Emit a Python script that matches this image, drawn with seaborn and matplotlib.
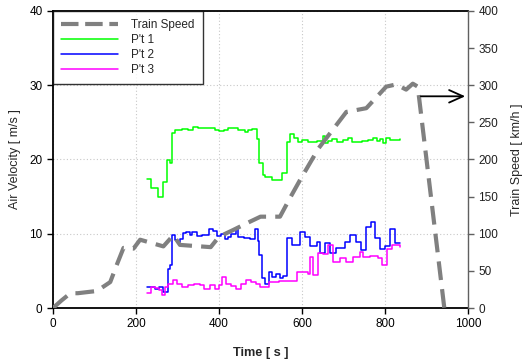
import numpy as np
import pandas as pd
import matplotlib
matplotlib.use("Agg")
import matplotlib.pyplot as plt
from matplotlib.lines import Line2D
import seaborn as sns

# ---- data ----
speed_t = [0, 20, 42, 60, 106, 138, 155, 170, 194, 210, 266, 290, 306, 380, 400, 434, 470, 500,
           547, 571, 595, 640, 707, 755, 803, 827, 851, 867, 879, 943]
speed_v = [0, 10, 20, 20, 23, 35, 60, 81, 80, 92, 83, 98, 85, 82, 96, 105, 115, 123,
           123, 148, 172, 215, 264, 269, 298, 301, 294, 302, 298, 0]

p1_t = [226, 236, 254, 266, 275, 282, 287, 295, 310, 325, 338, 350, 370, 390, 400, 412, 422, 435,
        445, 455, 462, 470, 480, 491, 497, 505, 512, 528, 552, 564, 571, 580, 590, 600, 615, 625,
        635, 645, 650, 655, 662, 672, 685, 700, 710, 720, 735, 745, 760, 770, 780, 788, 795, 803,
        812, 836]
p1_v = [17.4, 16.2, 15.0, 17.0, 19.9, 19.5, 23.6, 24.0, 24.1, 24.0, 24.4, 24.2, 24.2, 24.0, 23.8,
        23.9, 24.2, 24.3, 23.9, 24.0, 23.7, 24.0, 24.1, 22.7, 19.5, 17.9, 17.6, 17.2, 18.2, 22.4,
        23.4, 22.9, 22.4, 22.6, 22.4, 22.3, 22.5, 22.5, 23.1, 22.2, 22.5, 22.7, 22.4, 22.6, 22.9,
        22.4, 22.4, 22.5, 22.6, 22.9, 22.5, 22.8, 22.2, 22.9, 22.6, 22.8]

p2_t = [226, 245, 255, 266, 276, 282, 287, 293, 300, 307, 313, 320, 330, 335, 348, 360, 375, 385,
        395, 405, 415, 422, 430, 440, 447, 460, 475, 487, 493, 497, 503, 512, 520, 528, 538, 548,
        555, 563, 575, 595, 607, 619, 635, 643, 655, 667, 683, 703, 715, 731, 743, 755, 767, 775,
        787, 800, 811, 823, 836]
p2_v = [2.8, 2.6, 2.9, 2.2, 5.3, 5.8, 9.8, 9.2, 8.9, 9.3, 10.1, 10.2, 9.8, 10.3, 9.7, 9.8, 10.6,
        10.4, 9.7, 10.0, 9.3, 9.5, 10.0, 10.7, 9.5, 9.4, 9.3, 10.6, 9.0, 7.2, 4.0, 3.3, 4.9, 4.2,
        4.6, 4.0, 4.3, 9.4, 8.5, 10.3, 9.6, 8.3, 8.9, 7.4, 8.7, 7.4, 8.1, 8.9, 9.8, 8.9, 7.8, 10.9,
        11.6, 9.4, 8.0, 8.3, 10.7, 8.7, 8.7]

p3_t = [226, 236, 245, 255, 262, 270, 278, 290, 300, 310, 325, 340, 355, 365, 378, 390, 400, 407,
        418, 430, 440, 452, 465, 478, 490, 500, 520, 545, 565, 587, 615, 619, 627, 639, 651, 663,
        675, 691, 707, 723, 739, 747, 765, 783, 794, 804, 816, 836]
p3_v = [2.0, 2.9, 2.7, 2.4, 1.8, 2.9, 3.3, 3.8, 3.3, 2.8, 3.1, 3.2, 3.1, 2.6, 3.1, 2.5, 3.1, 4.2,
        3.3, 3.0, 2.6, 3.3, 3.8, 3.5, 3.2, 2.9, 3.5, 3.6, 3.7, 4.9, 4.6, 6.9, 4.4, 7.4, 7.3, 8.5,
        6.2, 6.7, 6.2, 6.9, 7.6, 6.9, 7.0, 6.7, 5.8, 8.0, 8.5, 8.2]

labels = ["Train Speed", "P't 1", "P't 2", "P't 3"]

# ---- plot ----
sns.set_style("white")
plt.rcParams['font.family'] = ['Liberation Sans', 'DejaVu Sans']

fig = plt.figure(figsize=(5.22, 3.62), dpi=100)
ax = fig.add_axes([0.1015, 0.149, 0.795, 0.821])
ax2 = ax.twinx()

df1 = pd.DataFrame({"t": p1_t, "v": p1_v})
df2 = pd.DataFrame({"t": p2_t, "v": p2_v})
df3 = pd.DataFrame({"t": p3_t, "v": p3_v})
dfs = pd.DataFrame({"t": speed_t, "v": speed_v})

sns.lineplot(data=df1, x="t", y="v", ax=ax, color="#00ff00", lw=1.1, drawstyle="steps-post",
             label=labels[1], legend=False)
sns.lineplot(data=df2, x="t", y="v", ax=ax, color="#0000ff", lw=1.1, drawstyle="steps-post",
             label=labels[2], legend=False)
sns.lineplot(data=df3, x="t", y="v", ax=ax, color="#ff00ff", lw=1.1, drawstyle="steps-post",
             label=labels[3], legend=False)
sns.lineplot(data=dfs, x="t", y="v", ax=ax2, color="#808080", lw=3, dashes=False,
             label=labels[0], legend=False)
ax2.lines[0].set_dashes([4.5, 2.2])

ax.set_xlim(0, 1000)
ax.set_ylim(0, 40)
ax2.set_ylim(0, 400)
ax.set_xticks([0, 200, 400, 600, 800, 1000])
ax.set_yticks([0, 10, 20, 30, 40])
ax2.set_yticks([0, 50, 100, 150, 200, 250, 300, 350, 400])

ax.grid(True, linestyle=(0, (1, 2)), color="#c8c8c8", lw=0.8)
ax.set_axisbelow(True)

ax.set_xlabel("Time [ s ]", fontsize=9.2, fontweight="bold", labelpad=12)
ax.set_ylabel("Air Velocity [ m/s ]", fontsize=9, labelpad=6)
ax2.set_ylabel("Train Speed [ km/h ]", fontsize=9, labelpad=9)

ax.tick_params(axis="both", direction="out", length=4, width=1, labelsize=8.5, colors="black")
ax.tick_params(axis="x", bottom=True)
ax.tick_params(axis="y", left=True)
ax2.tick_params(axis="y", direction="out", length=4, width=1, labelsize=8.5, right=True,
                color="#606060", labelcolor="#202020")

for s in ["left", "bottom", "top"]:
    ax.spines[s].set_color("black")
    ax.spines[s].set_linewidth(1.3)
ax.spines["right"].set_visible(False)
for s in ["left", "bottom", "top"]:
    ax2.spines[s].set_visible(False)
ax2.spines["right"].set_color("#606060")
ax2.spines["right"].set_linewidth(1.0)

ax2.annotate("", xy=(1000, 285), xytext=(880, 285),
             arrowprops=dict(arrowstyle="->,head_length=1.0,head_width=0.45", color="black", lw=1.3))

h1, l1 = ax.get_legend_handles_labels()
speed_handle = Line2D([], [], color="#808080", lw=3, linestyle=(0, (4.2, 1.6)))
leg = ax2.legend([speed_handle] + h1, [labels[0]] + l1, loc="upper left", fontsize=8.5,
                 frameon=True, fancybox=False, edgecolor="black", borderaxespad=0,
                 handlelength=4.8, labelspacing=0.25, handletextpad=1.1, borderpad=0.7)
leg.get_frame().set_linewidth(1.0)

fig.savefig("out.png", dpi=100)
